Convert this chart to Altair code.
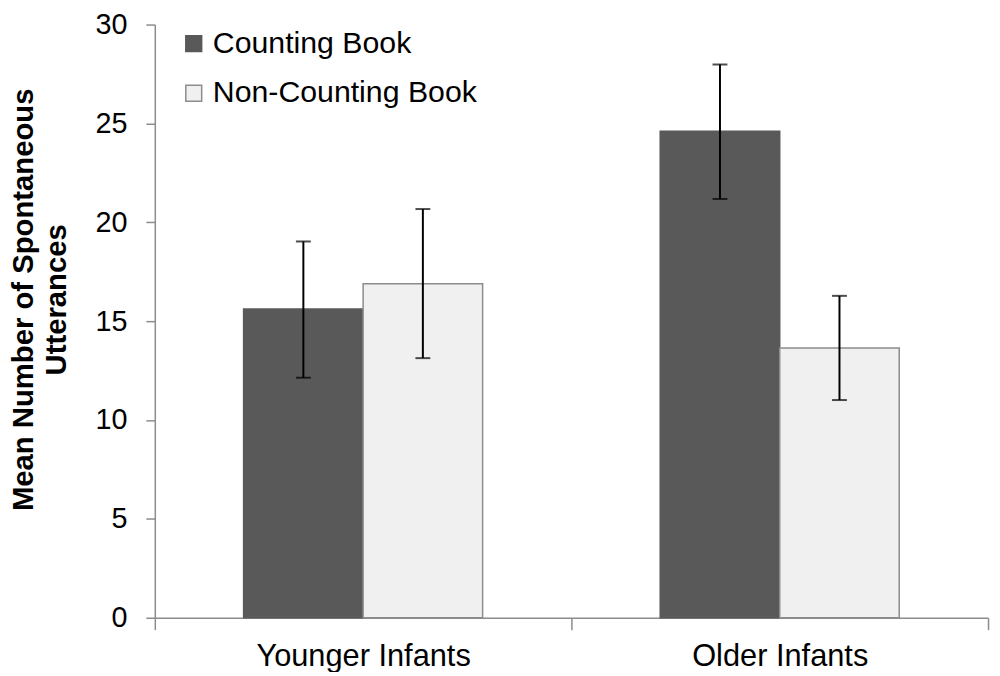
import altair as alt
import pandas as pd

ages = ["Younger Infants", "Younger Infants", "Older Infants", "Older Infants"]
books = ["Counting Book", "Non-Counting Book", "Counting Book", "Non-Counting Book"]
means = [15.62, 16.89, 24.61, 13.64]
err_lo = [12.14, 13.13, 21.18, 11.01]
err_hi = [19.03, 20.67, 27.98, 16.28]

age_order = ["Younger Infants", "Older Infants"]
book_order = ["Counting Book", "Non-Counting Book"]
fill_colors = ["#595959", "#f0f0f0"]
stroke_colors = ["#595959", "#8c8c8c"]

df = pd.DataFrame({"age": ages, "book": books, "mean": means, "lo": err_lo, "hi": err_hi})

FONT = "Liberation Sans"

x_enc = alt.X("age:N", sort=age_order,
              scale=alt.Scale(paddingInner=0, paddingOuter=0),
              axis=alt.Axis(title=None, tickBand="extent", tickSize=12, labelPadding=12,
                            labelFontSize=31, labelFont=FONT, labelColor="black",
                            labelLimit=0,
                            labelAngle=0, domainColor="#8c8c8c", tickColor="#8c8c8c",
                            domainWidth=1.5, tickWidth=1.5))
xo_enc = alt.XOffset("book:N", sort=book_order,
                     scale=alt.Scale(paddingInner=0, paddingOuter=0.743))

legend = alt.Legend(title=None, orient="none", legendX=24, legendY=4,
                    symbolType="square", symbolSize=256, symbolStrokeWidth=1.5,
                    labelFontSize=30.5, labelFont=FONT, labelColor="black",
                    labelLimit=0, rowPadding=19, labelOffset=4)

base = alt.Chart(df)

bars = base.mark_bar(strokeWidth=1.5).encode(
    x=x_enc,
    xOffset=xo_enc,
    y=alt.Y("mean:Q", scale=alt.Scale(domain=[0, 30], nice=False),
            axis=alt.Axis(values=[0, 5, 10, 15, 20, 25, 30],
                          title=["Mean Number of Spontaneous", "Utterances"],
                          titleFont=FONT, titleFontSize=29.5, titleFontWeight="bold",
                          titleColor="black", titleLineHeight=33,
                          titleX=-132, titleY=277, titleBaseline="middle",
                          titleAlign="center", titleAngle=270,
                          grid=False, tickSize=9, labelPadding=19,
                          labelFontSize=29, labelFont=FONT, labelColor="black",
                          domainColor="#8c8c8c", tickColor="#8c8c8c",
                          domainWidth=1.5, tickWidth=1.5)),
    fill=alt.Fill("book:N", sort=book_order,
                  scale=alt.Scale(domain=book_order, range=fill_colors), legend=legend),
    stroke=alt.Stroke("book:N", sort=book_order,
                      scale=alt.Scale(domain=book_order, range=stroke_colors), legend=legend),
)

rules = base.mark_rule(color="black", strokeWidth=2).encode(
    x=x_enc, xOffset=xo_enc, y="lo:Q", y2="hi:Q")
cap_lo = base.mark_tick(color="black", thickness=2, size=15).encode(
    x=x_enc, xOffset=xo_enc, y="lo:Q")
cap_hi = base.mark_tick(color="black", thickness=2, size=15).encode(
    x=x_enc, xOffset=xo_enc, y="hi:Q")

chart = alt.layer(bars, rules, cap_lo, cap_hi).properties(
    width=840, height=598,
    autosize=alt.AutoSizeParams(type="none"),
    padding={"left": 148, "top": 14, "right": 4, "bottom": 52},
).configure_view(stroke=None)

chart.save("out.html", embed_options={"renderer": "svg", "actions": False})
